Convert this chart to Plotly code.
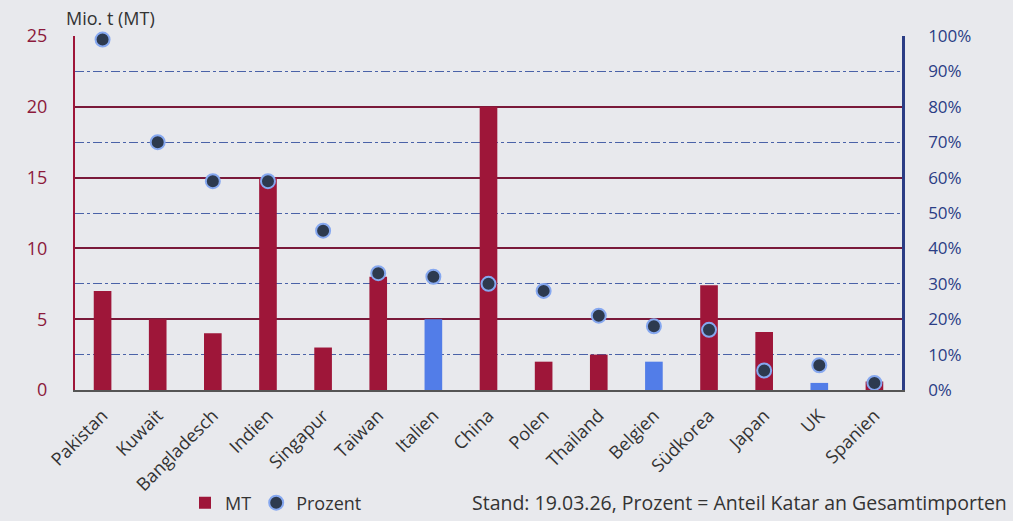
import plotly.graph_objects as go

countries = ["Pakistan", "Kuwait", "Bangladesch", "Indien", "Singapur", "Taiwan", "Italien",
             "China", "Polen", "Thailand", "Belgien", "Südkorea", "Japan", "UK", "Spanien"]
mt_values = [7, 5, 4, 15, 3, 8, 5, 20, 2, 2.5, 2, 7.4, 4.1, 0.5, 0.6]
percent_values = [99, 70, 59, 59, 45, 33, 32, 30, 28, 21, 18, 17, 5.5, 7, 2]
europe = {"Italien", "Belgien", "UK"}

RED = "#9e1639"
BLUE = "#527de8"
NAVY = "#2b3d85"
BG = "#e8e9ed"
TEXT = "#333333"
FONT = "Open Sans"

W, H = 1013, 521
ML, MR, MT_, MB = 75, 111, 36, 131
plot_w = W - ML - MR
plot_h = H - MT_ - MB


def px_x(x):
    return (x - ML) / plot_w


def px_y(y):
    return (H - MB - y) / plot_h


bar_colors = [BLUE if c in europe else RED for c in countries]

fig = go.Figure()
fig.add_trace(go.Bar(
    x=countries, y=mt_values, name="MT",
    marker=dict(color=bar_colors, line=dict(width=0)),
    width=0.32, yaxis="y",
))
fig.add_trace(go.Scatter(
    x=countries, y=percent_values, name="Prozent", mode="markers",
    marker=dict(size=14, color="#2d3a4f", line=dict(color="#86a8f0", width=2)),
    yaxis="y2", cliponaxis=False,
))

fig.update_layout(
    width=W, height=H,
    margin=dict(l=ML, r=MR, t=MT_, b=MB, autoexpand=False),
    paper_bgcolor=BG, plot_bgcolor=BG,
    font=dict(family=FONT, size=18, color=TEXT),
    showlegend=True,
    legend=dict(orientation="h", x=px_x(185), y=px_y(503), xref="paper", yref="paper",
                xanchor="left", yanchor="middle", font=dict(size=18, color=TEXT),
                bgcolor="rgba(0,0,0,0)", itemwidth=30, tracegroupgap=0),
    xaxis=dict(
        range=[-0.5, len(countries) - 0.5],
        tickangle=-45, showgrid=False, showline=True, linecolor="#555555", linewidth=2,
        tickfont=dict(size=18, color=TEXT), ticks="", ticklabelstandoff=6,
    ),
    yaxis=dict(
        range=[0, 25], dtick=5, showgrid=True, gridcolor="#7a1a3a", gridwidth=1.5,
        showline=True, linecolor=RED, linewidth=2, zeroline=False,
        tickfont=dict(size=18, color="#8c1a3c"), ticklabelstandoff=22,
        minor=dict(dtick=2.5, showgrid=True, gridcolor="#4a62a8", griddash="dashdot", gridwidth=1),
    ),
    yaxis2=dict(
        range=[0, 100], dtick=10, overlaying="y", side="right", showgrid=False,
        showline=True, linecolor=NAVY, linewidth=2.5, zeroline=False,
        ticksuffix="%", tickfont=dict(size=17, color=NAVY), ticklabelstandoff=20,
    ),
    annotations=[
        dict(text="Mio. t (MT)", x=px_x(64), y=px_y(18), xref="paper", yref="paper",
             xanchor="left", yanchor="middle", showarrow=False,
             font=dict(size=18, color=TEXT)),
        dict(text="Stand: 19.03.26, Prozent = Anteil Katar an Gesamtimporten",
             x=px_x(1009), y=px_y(503), xref="paper", yref="paper",
             xanchor="right", yanchor="middle", showarrow=False,
             font=dict(size=19.5, color=TEXT)),
    ],
)

fig.write_html("out.html")
